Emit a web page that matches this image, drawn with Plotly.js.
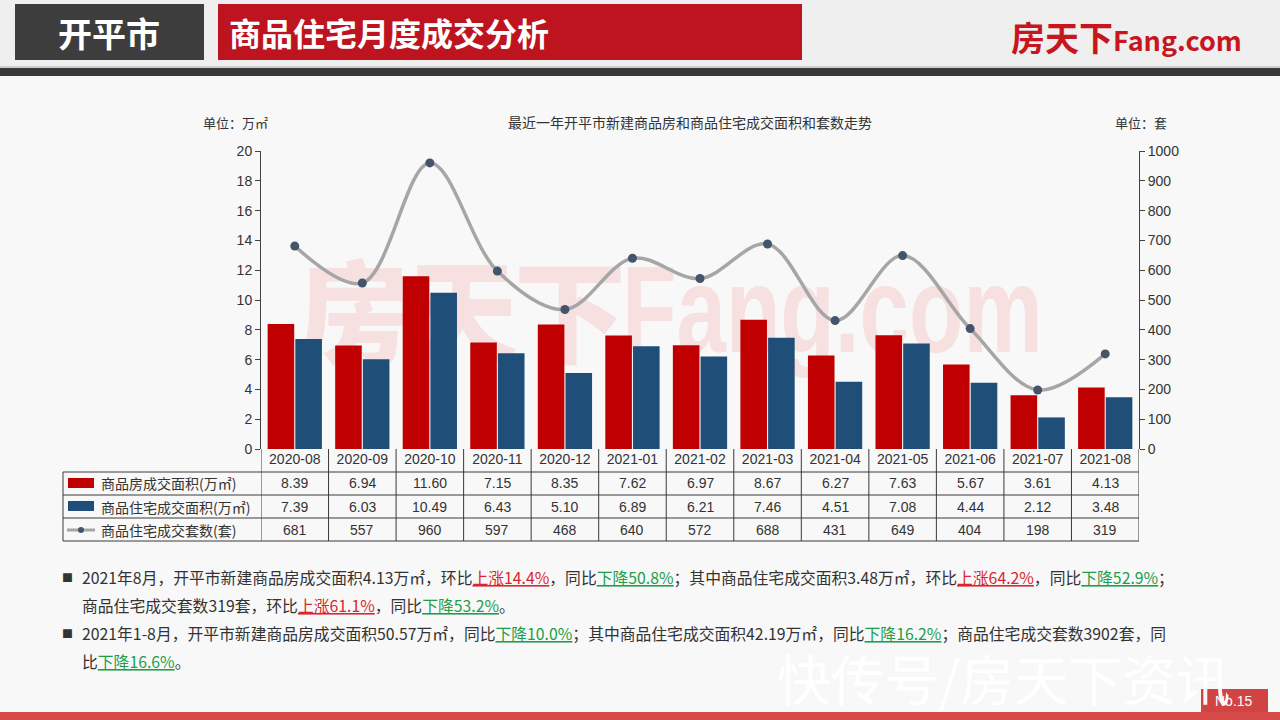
<!DOCTYPE html>
<html>
<head>
<meta charset="utf-8">
<script src="https://cdn.plot.ly/plotly-3.0.1.min.js"></script>
<style>
html,body{margin:0;padding:0;background:#f8f8f8;width:1280px;height:720px;overflow:hidden;}
#wm{position:absolute;left:298px;top:236px;z-index:0;white-space:nowrap;color:#f6e0e0;font-family:"Noto Sans CJK SC",sans-serif;font-weight:900;font-size:112px;line-height:140px;letter-spacing:-4px;}
#wm span{display:inline-block;transform:scaleX(0.73);transform-origin:0 50%;font-family:"Liberation Sans",Arial,sans-serif;font-weight:bold;font-size:122px;letter-spacing:0;vertical-align:top;margin-top:4px;}
#chart{position:absolute;left:0;top:0;width:1280px;height:720px;z-index:1;}
</style>
</head>
<body>
<div id="wm">房天下<span>Fang.com</span></div>
<div id="chart"></div>
<script>
// ---- data ----
var months = ['2020-08','2020-09','2020-10','2020-11','2020-12','2021-01','2021-02','2021-03','2021-04','2021-05','2021-06','2021-07','2021-08'];
var areaAll = [8.39,6.94,11.60,7.15,8.35,7.62,6.97,8.67,6.27,7.63,5.67,3.61,4.13];
var areaRes = [7.39,6.03,10.49,6.43,5.10,6.89,6.21,7.46,4.51,7.08,4.44,2.12,3.48];
var units = [681,557,960,597,468,640,572,688,431,649,404,198,319];
var seriesNames = ['商品房成交面积(万㎡)','商品住宅成交面积(万㎡)','商品住宅成交套数(套)'];

// ---- helpers (pixel -> paper) ----
function px(x){return x/1280;}
function py(y){return 1-y/720;}

var RED='#c00000', BLUE='#1f4e79', GRAY='#a6a6a6', DOT='#44546a';
var FONT='"Liberation Sans", Arial, "Noto Sans CJK SC", sans-serif';
var CJK='"Noto Sans CJK SC", "Liberation Sans", sans-serif';

var traces = [
  {type:'bar', x:months, y:areaAll, name:seriesNames[0], marker:{color:RED}, hoverinfo:'none'},
  {type:'bar', x:months, y:areaRes, name:seriesNames[1], marker:{color:BLUE}, hoverinfo:'none'},
  {type:'scatter', mode:'lines+markers', x:months, y:units, yaxis:'y2', name:seriesNames[2],
   line:{color:GRAY, width:3.5, shape:'spline', smoothing:1}, marker:{color:DOT, size:9}, hoverinfo:'none'}
];

var shapes = [], ann = [];
function A(o){ if(!o.xanchor) o.xanchor='center'; if(!o.yanchor) o.yanchor='middle'; o.showarrow=false; if(!o.xref) o.xref='paper'; if(!o.yref) o.yref='paper'; ann.push(o); }
// header background
shapes.push({type:'rect',xref:'paper',yref:'paper',x0:0,x1:1,y0:py(66),y1:1,fillcolor:'#efefef',line:{width:0},layer:'below'});
shapes.push({type:'rect',xref:'paper',yref:'paper',x0:0,x1:1,y0:py(68),y1:py(66),fillcolor:'#cfcfcf',line:{width:0},layer:'below'});
shapes.push({type:'rect',xref:'paper',yref:'paper',x0:0,x1:1,y0:py(76),y1:py(68),fillcolor:'#3b3a3a',line:{width:0},layer:'below'});
shapes.push({type:'rect',xref:'paper',yref:'paper',x0:px(15),x1:px(204),y0:py(60),y1:py(4),fillcolor:'#3e3d3d',line:{width:0},layer:'below'});
shapes.push({type:'rect',xref:'paper',yref:'paper',x0:px(218),x1:px(802),y0:py(60),y1:py(4),fillcolor:'#be1420',line:{width:0},layer:'below'});
// bottom band
shapes.push({type:'rect',xref:'paper',yref:'paper',x0:0,x1:1,y0:0,y1:py(712),fillcolor:'#d64a4a',line:{width:0},layer:'below'});
shapes.push({type:'rect',xref:'paper',yref:'paper',x0:px(1201),x1:px(1268),y0:py(712),y1:py(689),fillcolor:'#d04444',line:{width:0},layer:'below'});

A({x:px(109),y:py(33),text:'<b>开平市</b>',font:{family:CJK,size:34,color:'#ffffff'}});
A({x:px(227),xanchor:'left',y:py(32),text:'<b>商品住宅月度成交分析</b>',font:{family:CJK,size:32,color:'#ffffff'}});
A({x:px(1244),xanchor:'right',y:py(36),text:'<b>房天下</b><b style="font-size:27px">Fang.com</b>',font:{family:CJK,size:34,color:'#c8161e'}});

// chart titles
A({x:px(690),y:py(122),text:'最近一年开平市新建商品房和商品住宅成交面积和套数走势',font:{family:CJK,size:14,color:'#333'}});
A({x:px(235),y:py(122),text:'单位：万㎡',font:{family:CJK,size:13,color:'#333'}});
A({x:px(1141),y:py(122),text:'单位：套',font:{family:CJK,size:13,color:'#333'}});

// table grid
var LC='#3a3a3a';
var rowY=[472,495,518,541];
rowY.forEach(function(y){shapes.push({type:'line',xref:'paper',yref:'paper',x0:px(63),x1:px(1139),y0:py(y),y1:py(y),line:{color:LC,width:1}});});
shapes.push({type:'line',xref:'paper',yref:'paper',x0:px(63),x1:px(63),y0:py(472),y1:py(541),line:{color:LC,width:1}});
for(var i=0;i<=months.length;i++){
  shapes.push({type:'line',xref:'x',yref:'paper',x0:i-0.5,x1:i-0.5,y0:py(449),y1:py(541),line:{color:LC,width:1}});
}
// legend swatches in table
shapes.push({type:'rect',xref:'paper',yref:'paper',x0:px(68),x1:px(94),y0:py(488),y1:py(478),fillcolor:RED,line:{width:0}});
shapes.push({type:'rect',xref:'paper',yref:'paper',x0:px(68),x1:px(94),y0:py(511),y1:py(501),fillcolor:BLUE,line:{width:0}});
shapes.push({type:'line',xref:'paper',yref:'paper',x0:px(67),x1:px(95),y0:py(530),y1:py(530),line:{color:GRAY,width:3}});
shapes.push({type:'circle',xref:'paper',yref:'paper',x0:px(78),x1:px(84),y0:py(533),y1:py(527),fillcolor:DOT,line:{width:0}});

var rowC=[483.5,506.5,529.5];
for(var r=0;r<3;r++){
  A({x:px(99),xanchor:'left',y:py(rowC[r]),text:seriesNames[r],font:{family:CJK,size:14,color:'#333'}});
}
months.forEach(function(m,i){
  A({xref:'x',x:m,y:py(rowC[0]),text:areaAll[i].toFixed(2),font:{family:FONT,size:14,color:'#333'}});
  A({xref:'x',x:m,y:py(rowC[1]),text:areaRes[i].toFixed(2),font:{family:FONT,size:14,color:'#333'}});
  A({xref:'x',x:m,y:py(rowC[2]),text:String(units[i]),font:{family:FONT,size:14,color:'#333'}});
});

// commentary
function up(t){return '<span style="color:#d9262c"><u>'+t+'</u></span>';}
function dn(t){return '<span style="color:#1e9e4a"><u>'+t+'</u></span>';}
var lines=[
  '2021年8月，开平市新建商品房成交面积4.13万㎡，环比'+up('上涨14.4%')+'，同比'+dn('下降50.8%')+'；其中商品住宅成交面积3.48万㎡，环比'+up('上涨64.2%')+'，同比'+dn('下降52.9%')+'；',
  '商品住宅成交套数319套，环比'+up('上涨61.1%')+'，同比'+dn('下降53.2%')+'。',
  '2021年1-8月，开平市新建商品房成交面积50.57万㎡，同比'+dn('下降10.0%')+'；其中商品住宅成交面积42.19万㎡，同比'+dn('下降16.2%')+'；商品住宅成交套数3902套，同',
  '比'+dn('下降16.6%')+'。'
];
var lineY=[577,605,633,661];
lines.forEach(function(t,k){
  A({x:px(80),xanchor:'left',y:py(lineY[k]),text:t,font:{family:CJK,size:15.8,color:'#333'}});
});
A({x:px(67),y:py(577),text:'■',font:{family:CJK,size:11,color:'#333'}});
A({x:px(67),y:py(633),text:'■',font:{family:CJK,size:11,color:'#333'}});

// footer
A({x:px(1234),y:py(701),text:'No.15',font:{family:FONT,size:14,color:'#ffffff'}});
A({x:px(1003),y:py(719),yanchor:'bottom',text:'快传号/房天下资讯',font:{family:CJK,size:54,color:'rgba(255,255,255,0.95)'}});

var layout = {
  width:1280, height:720,
  margin:{l:0,r:0,t:0,b:0},
  paper_bgcolor:'rgba(0,0,0,0)', plot_bgcolor:'rgba(0,0,0,0)',
  showlegend:false,
  barmode:'group', bargap:0.18, bargroupgap:0.04,
  xaxis:{domain:[px(261),px(1139)], type:'category', range:[-0.5,12.5], showgrid:false, zeroline:false,
         showline:false, ticks:'', tickfont:{family:FONT,size:14,color:'#333'}, fixedrange:true},
  yaxis:{domain:[py(449),py(151)], range:[0,20], dtick:2, showgrid:false, zeroline:false,
         showline:true, linecolor:'#444', linewidth:1, ticks:'outside', ticklen:5, tickcolor:'#444',
         tickfont:{family:FONT,size:14,color:'#333'}},
  yaxis2:{overlaying:'y', side:'right', anchor:'x', range:[0,1000], dtick:100, showgrid:false, zeroline:false,
         showline:true, linecolor:'#444', linewidth:1, ticks:'outside', ticklen:5, tickcolor:'#444',
         tickfont:{family:FONT,size:14,color:'#333'}},
  shapes:shapes, annotations:ann
};
Plotly.newPlot('chart', traces, layout, {staticPlot:true, displayModeBar:false});
</script>
</body>
</html>
